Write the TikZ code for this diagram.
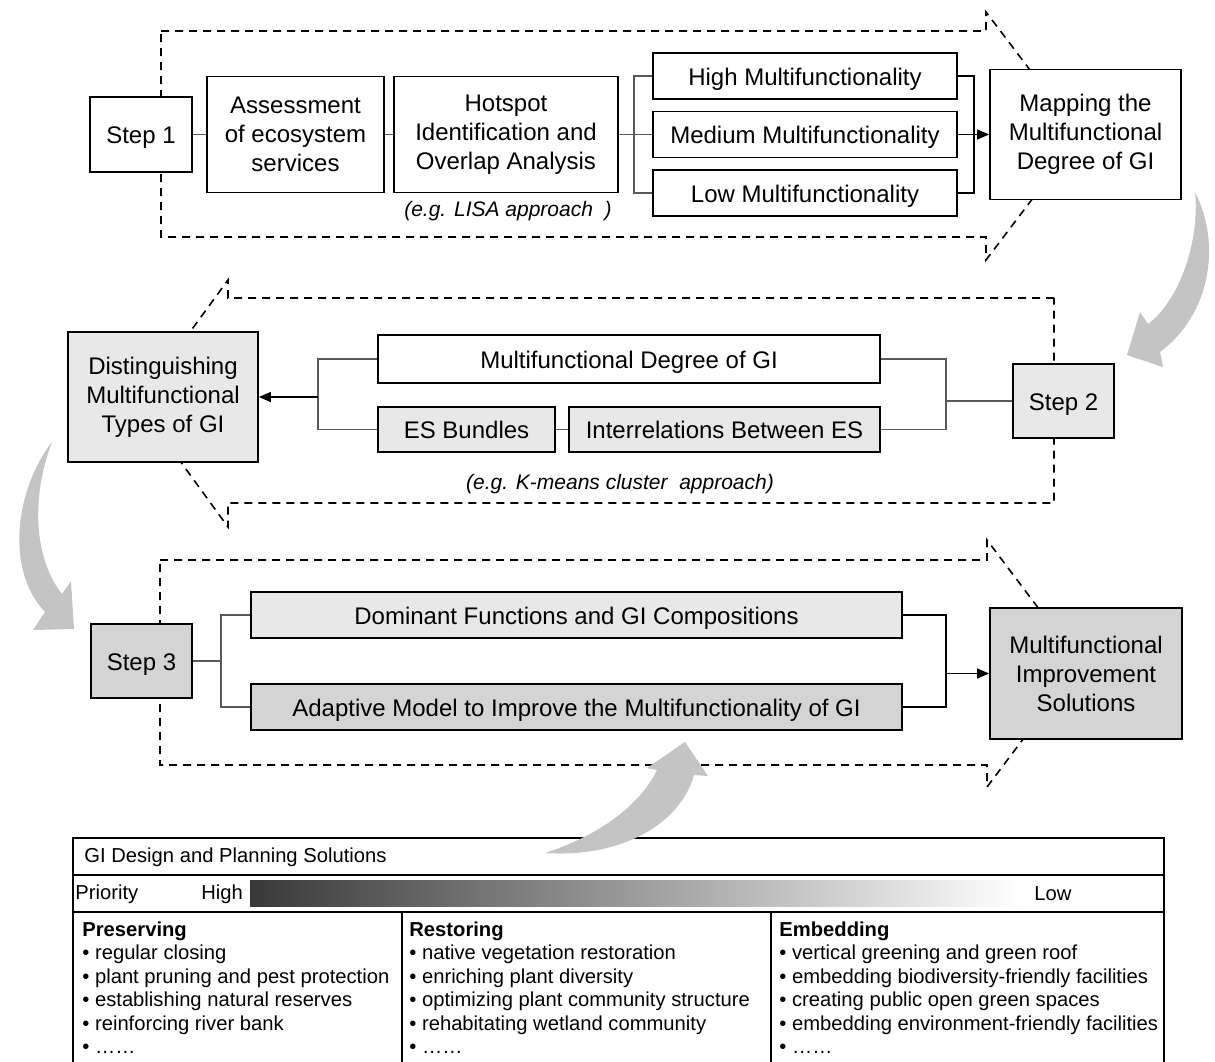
\documentclass[tikz,border=0pt]{standalone}
\usepackage{fontspec}
\setmainfont{Liberation Sans}
\usetikzlibrary{arrows.meta}
\definecolor{lightbox}{gray}{0.91}
\definecolor{midbox}{gray}{0.83}
\definecolor{swoosh}{gray}{0.77}
\definecolor{linkgray}{gray}{0.35}
\tikzset{
  stagebox/.style={draw,line width=0.9pt,fill=white,align=center,inner sep=0pt,font=\fontsize{12}{14.5}\selectfont},
  oneline/.style={text height=9.3pt,text depth=0pt},
  chevron/.style={draw,dash pattern=on 4pt off 3pt,line width=0.8pt},
  link/.style={draw=linkgray,line width=0.6pt},
  thick link/.style={line width=0.8pt},
  flow/.style={line width=0.8pt,-{Triangle[length=6pt,width=5pt]}},
  note/.style={font=\fontsize{10.5}{12}\selectfont\itshape},
  cell/.style={font=\fontsize{10.1}{11.75}\selectfont,inner sep=0pt,align=left},
}
\begin{document}
\begin{tikzpicture}[x=0.5pt,y=-0.5pt]
\useasboundingbox (0,0) rectangle (1215,1061);

% dashed stage outlines
\draw[chevron] (161,31) -- (986,31) -- (986,12) -- (1080,136) -- (986,260) -- (986,237) -- (161,237) -- cycle;
\draw[chevron] (1054,298) -- (228,298) -- (228,280) -- (138,403) -- (228,527) -- (228,503) -- (1054,503) -- cycle;
\draw[chevron] (160,560) -- (987,560) -- (987,540) -- (1080,663.5) -- (987,787) -- (987,765) -- (160,765) -- cycle;

% step 1
\node[stagebox,oneline,minimum width=51pt,minimum height=37.5pt] (step1) at (141,134.5) {Step 1};
\node[stagebox,minimum width=88.5pt,minimum height=58pt] (assess) at (295.5,134.5) {Assessment\\of ecosystem\\services};
\node[stagebox,minimum width=112pt,minimum height=58pt] (hotspot) at (506,134.5) {Hotspot\\Identification and\\Overlap Analysis};
\node[note] (lisa) at (508,211) {(e.g. LISA approach\ \ )};
\node[stagebox,oneline,minimum width=152pt,minimum height=23pt] (high) at (805,76) {High Multifunctionality};
\node[stagebox,oneline,minimum width=152pt,minimum height=23pt] (medium) at (805,134.5) {Medium Multifunctionality};
\node[stagebox,oneline,minimum width=152pt,minimum height=23pt] (low) at (805,193) {Low Multifunctionality};
\node[stagebox,minimum width=95.5pt,minimum height=65pt] (mapping) at (1085.5,134.5) {Mapping the\\Multifunctional\\Degree of GI};

\coordinate (busA) at (634,0);
\coordinate (busB) at (974,0);
\draw[link] (step1) -- (assess);
\draw[link] (assess) -- (hotspot);
\draw[link] (hotspot.east) -- (hotspot.east -| busA);
\draw[link] (high.west) -| (busA |- low.west) -- (low.west);
\draw[link] (medium.west) -- (medium.west -| busA);
\draw[thick link] (high.east) -| (busB |- low.east) -- (low.east);
\draw[flow] (medium.east) -- (mapping.west);

% step 2
\node[stagebox,fill=lightbox,minimum width=95pt,minimum height=65pt] (distinguish) at (163,397) {Distinguishing\\Multifunctional\\Types of GI};
\node[stagebox,oneline,minimum width=251pt,minimum height=24pt] (mdgi) at (629,359) {Multifunctional Degree of GI};
\node[stagebox,oneline,fill=lightbox,minimum width=88.5pt,minimum height=22.5pt] (esb) at (466.5,429.5) {ES Bundles};
\node[stagebox,oneline,fill=lightbox,minimum width=155.5pt,minimum height=22.5pt] (inter) at (724.5,429.5) {Interrelations Between ES};
\node[stagebox,oneline,fill=lightbox,minimum width=50.5pt,minimum height=37pt] (step2) at (1063.5,401) {Step 2};
\node[note] (kmeans) at (620,484) {(e.g. K-means cluster\ \ approach)};

\coordinate (busC) at (946,0);
\coordinate (busD) at (318,0);
\draw[link] (mdgi.east) -| (busC |- inter.east) -- (inter.east);
\draw[link] (step2.west) -- (step2.west -| busC);
\draw[link] (esb) -- (inter);
\draw[link] (mdgi.west) -| (busD |- esb.west) -- (esb.west);
\draw[flow] (busD |- distinguish.east) -- (distinguish.east);

% step 3
\node[stagebox,oneline,fill=midbox,minimum width=50.5pt,minimum height=37pt] (step3) at (141.5,661) {Step 3};
\node[stagebox,oneline,fill=lightbox,minimum width=325.5pt,minimum height=23pt] (dominant) at (576.5,615) {Dominant Functions and GI Compositions};
\node[stagebox,oneline,fill=midbox,minimum width=325.5pt,minimum height=23pt] (adaptive) at (576.5,707) {Adaptive Model to Improve the Multifunctionality of GI};
\node[stagebox,fill=midbox,minimum width=96pt,minimum height=65.5pt] (mis) at (1086,673.5) {Multifunctional\\Improvement\\Solutions};

\coordinate (busE) at (221,0);
\coordinate (busF) at (946,0);
\draw[link] (dominant.west) -| (busE |- adaptive.west) -- (adaptive.west);
\draw[link] (step3.east) -- (step3.east -| busE);
\draw[thick link] (dominant.east) -| (busF |- adaptive.east) -- (adaptive.east);
\draw[flow] (busF |- mis.west) -- (mis.west);

% solutions table
\draw[line width=0.8pt] (73,1066) -- (73,838) -- (1164,838) -- (1164,1066);
\draw[line width=0.8pt] (73,875) -- (1164,875);
\draw[line width=0.8pt] (73,912) -- (1164,912);
\draw[line width=0.8pt] (402,912) -- (402,1066);
\draw[line width=0.8pt] (771,912) -- (771,1066);
\shade[left color=black!78,right color=white] (250,880) rectangle (1020,906);
\node[cell,anchor=west] (gdps) at (84,857) {GI Design and Planning Solutions};
\node[cell,anchor=west] (prio) at (75,894) {Priority};
\node[cell,anchor=west] (prioHigh) at (201,894) {High};
\node[cell] (prioLow) at (1053,894) {Low};
\node[cell,anchor=north west] (colPres) at (82,921) {\textbf{Preserving}\\• regular closing\\• plant pruning and pest protection\\• establishing natural reserves\\• reinforcing river bank\\• ……};
\node[cell,anchor=north west] (colRest) at (409,921) {\textbf{Restoring}\\• native vegetation restoration\\• enriching plant diversity\\• optimizing plant community structure\\• rehabitating wetland community\\• ……};
\node[cell,anchor=north west] (colEmb) at (779,921) {\textbf{Embedding}\\• vertical greening and green roof\\• embedding biodiversity-friendly facilities\\• creating public open green spaces\\• embedding environment-friendly facilities\\• ……};

% gray curved arrows between steps
\fill[swoosh] (1195,192) .. controls (1222,245) and (1210,315) .. (1160,352) -- (1163,367) -- (1127,355) -- (1140,312) -- (1148,324) .. controls (1180,300) and (1200,240) .. (1195,192) -- cycle;
\fill[swoosh] (52,442) .. controls (15,490) and (5,570) .. (45,612) -- (33,630) -- (74,629) -- (71,581) -- (62,594) .. controls (35,560) and (30,500) .. (52,442) -- cycle;
\fill[swoosh] (545,853) .. controls (600,835) and (640,805) .. (657,770) -- (647,768) -- (685,742) -- (708,776) -- (694,775) .. controls (680,825) and (620,858) .. (545,853) -- cycle;
\end{tikzpicture}
\end{document}
